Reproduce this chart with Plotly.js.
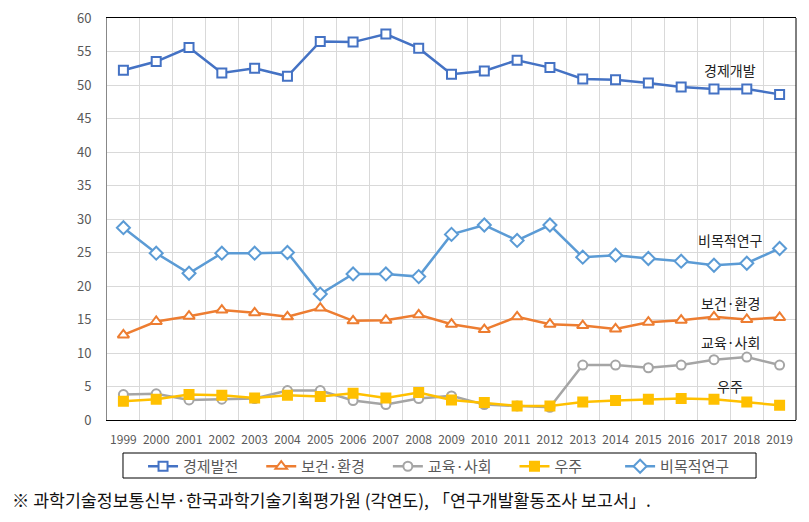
<!DOCTYPE html>
<html>
<head>
<meta charset="utf-8">
<script src="https://cdn.plot.ly/plotly-3.0.1.min.js"></script>
<style>body{margin:0;padding:0;background:#fff;}#chart{width:809px;height:522px;}</style>
</head>
<body>
<div id="chart"></div>
<script>
const years = ['1999','2000','2001','2002','2003','2004','2005','2006','2007','2008','2009','2010','2011','2012','2013','2014','2015','2016','2017','2018','2019'];
const economic = [52.2, 53.5, 55.6, 51.8, 52.5, 51.3, 56.5, 56.4, 57.6, 55.5, 51.6, 52.1, 53.7, 52.6, 50.9, 50.8, 50.3, 49.7, 49.4, 49.4, 48.6];
const health = [12.7, 14.7, 15.5, 16.4, 16.0, 15.4, 16.7, 14.8, 14.9, 15.7, 14.3, 13.5, 15.4, 14.3, 14.1, 13.6, 14.6, 14.9, 15.4, 15.0, 15.3];
const education = [3.8, 3.9, 3.0, 3.1, 3.2, 4.4, 4.4, 2.9, 2.3, 3.2, 3.6, 2.3, 2.1, 1.9, 8.2, 8.2, 7.8, 8.2, 9.0, 9.4, 8.2];
const space = [2.8, 3.1, 3.8, 3.7, 3.3, 3.7, 3.5, 4.0, 3.3, 4.1, 3.0, 2.6, 2.1, 2.1, 2.7, 2.9, 3.1, 3.2, 3.1, 2.7, 2.2];
const nonOriented = [28.7, 24.9, 21.9, 24.9, 24.9, 25.0, 18.8, 21.8, 21.8, 21.4, 27.7, 29.1, 26.8, 29.1, 24.3, 24.6, 24.1, 23.7, 23.1, 23.4, 25.6];
const seriesNames = ['경제발전', '보건·환경', '교육·사회', '우주', '비목적연구'];
const endLabels = ['경제개발', '보건·환경', '교육·사회', '우주', '비목적연구'];
const yTicks = [0, 5, 10, 15, 20, 25, 30, 35, 40, 45, 50, 55, 60];
const footnote = '※ 과학기술정보통신부·한국과학기술기획평가원 (각연도), 「연구개발활동조사 보고서」.';

const FONT = '"Noto Sans CJK KR", "Noto Sans", sans-serif';
const PAD = '\u3000\u2009';

function tr(name, y, color, symbol, size, fill, pad) {
  return {
    type: 'scatter', mode: 'lines+markers', name: name + pad, x: years, y: y,
    line: {color: color, width: 2.5},
    marker: {symbol: symbol, size: size, color: fill, line: {color: color, width: 2}},
    cliponaxis: false
  };
}

const data = [
  tr(seriesNames[0], economic, '#4472C4', 'square', 9, '#ffffff', PAD),
  tr(seriesNames[1], health, '#ED7D31', 'triangle-up', 10, '#ffffff', PAD),
  tr(seriesNames[2], education, '#A5A5A5', 'circle', 9, '#ffffff', PAD),
  tr(seriesNames[3], space, '#FFC000', 'square', 9, '#FFC000', PAD + '\u3000'),
  tr(seriesNames[4], nonOriented, '#5B9BD5', 'diamond', 10, '#ffffff', '')
];

const labelY = [52.2, 17.5, 11.6, 5.1, 26.8];
const annotations = endLabels.map((t, i) => ({
  text: t, x: 18.5, y: labelY[i], xref: 'x', yref: 'y', showarrow: false,
  font: {family: FONT, size: 14, color: '#222'}, xanchor: 'center', yanchor: 'middle'
}));
annotations.push({
  text: footnote, xref: 'paper', yref: 'paper', x: -0.141, y: -0.199,
  xanchor: 'left', yanchor: 'middle', showarrow: false,
  font: {family: FONT, size: 17.3, color: '#111'}
});

const layout = {
  width: 809, height: 522,
  margin: {l: 107, r: 13, t: 18, b: 102},
  paper_bgcolor: '#ffffff', plot_bgcolor: '#ffffff',
  font: {family: FONT, color: '#595959'},
  showlegend: true,
  legend: {
    orientation: 'h', x: 0.0523, xanchor: 'left', y: -0.1157, yanchor: 'middle',
    bgcolor: 'rgba(0,0,0,0)', borderwidth: 0, font: {family: FONT, size: 15, color: '#595959'},
    traceorder: 'normal', itemwidth: 30
  },
  xaxis: {
    type: 'category', tickson: 'boundaries', showgrid: true, gridcolor: '#d9d9d9', gridwidth: 1,
    ticks: '', showline: true, linecolor: '#000', linewidth: 1, mirror: true, tickangle: 0,
    tickfont: {family: FONT, size: 12, color: '#595959'}, range: [-0.5, 20.5],
    ticklabelstandoff: 9, zeroline: false
  },
  yaxis: {
    range: [0, 60], tickvals: yTicks, ticktext: yTicks.map(String), showgrid: true,
    gridcolor: '#d9d9d9', gridwidth: 1, showline: true, linecolor: '#888', linewidth: 1,
    ticks: '', tickfont: {family: FONT, size: 13, color: '#595959'}, zeroline: false,
    ticklabelstandoff: 12
  },
  shapes: [
    {type: 'line', xref: 'paper', yref: 'paper', x0: 1, x1: 1, y0: 0, y1: 1, line: {color: '#000', width: 1}},
    {type: 'rect', xref: 'paper', yref: 'paper', x0: 0.0232, x1: 0.942, y0: -0.0821, y1: -0.1443,
     line: {color: '#000', width: 1}, fillcolor: 'rgba(0,0,0,0)'}
  ],
  annotations: annotations
};

Plotly.newPlot('chart', data, layout, {displayModeBar: false, staticPlot: true});
</script>
</body>
</html>
